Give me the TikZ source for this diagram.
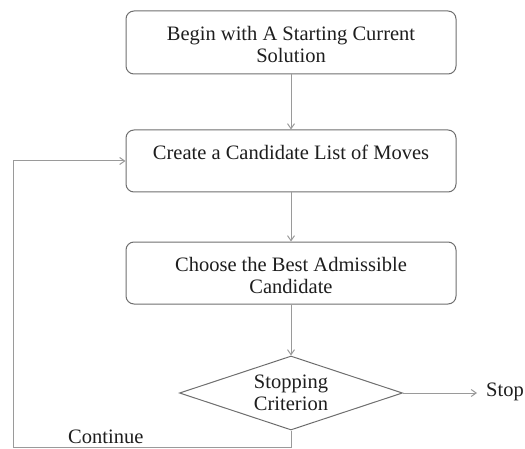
\documentclass[tikz,border=0pt]{standalone}
\usepackage{fontspec}
\setmainfont{Liberation Serif}
\usetikzlibrary{shapes.geometric,arrows.meta}
\definecolor{edgegray}{HTML}{9A9A9A}
\definecolor{framegray}{HTML}{6E6E6E}
\definecolor{txt}{HTML}{1E1E1E}
\tikzset{
  stepbox/.style={draw=framegray, line width=1pt, rounded corners=8pt,
    minimum width=330pt, inner sep=0pt},
  label/.style={text=txt, font=\fontsize{20.5}{22}\selectfont, align=center, inner sep=0pt},
  decision/.style={draw=framegray, line width=1pt, diamond, aspect=3.01,
    minimum width=223pt, minimum height=74pt, inner sep=0pt},
  flow/.style={draw=edgegray, line width=1pt, -{Straight Barb[length=5pt,width=7pt]}}
}
\begin{document}
\begin{tikzpicture}[x=1pt,y=1pt]
  \useasboundingbox (0,0) rectangle (525,448);
  % process boxes
  \node[stepbox, minimum height=63pt] (start) at (291,405.5) {};
  \node[label] at (291,404) {Begin with A Starting Current\\Solution};
  \node[stepbox, minimum height=62pt] (create) at (291,287) {};
  \node[label] at (291,296) {Create a Candidate List of Moves};
  \node[stepbox, minimum height=62pt] (choose) at (291,175) {};
  \node[label] at (291,173) {Choose the Best Admissible\\Candidate};
  % decision
  \node[decision] (crit) at (291,55) {};
  \node[label] at (291,55) {Stopping\\Criterion};
  \node[label, anchor=west, inner xsep=9pt] (stop) at (477,56) {Stop};
  \node[label, anchor=west] (cont) at (68,11) {Continue};
  % connectors
  \draw[flow] (start.south) -- (create.north);
  \draw[flow] (create.south) -- (choose.north);
  \draw[flow] (choose.south) -- (crit.north);
  \draw[flow] (crit.east) -- (crit.east -| stop.west);
  \coordinate (c1) at (291,0.8);
  \coordinate (c2) at (13,0.8);
  \coordinate (c3) at (13,287);
  \draw[flow] (crit.south) -- (c1) -- (c2) -- (c3) -- (create.west);
\end{tikzpicture}
\end{document}
